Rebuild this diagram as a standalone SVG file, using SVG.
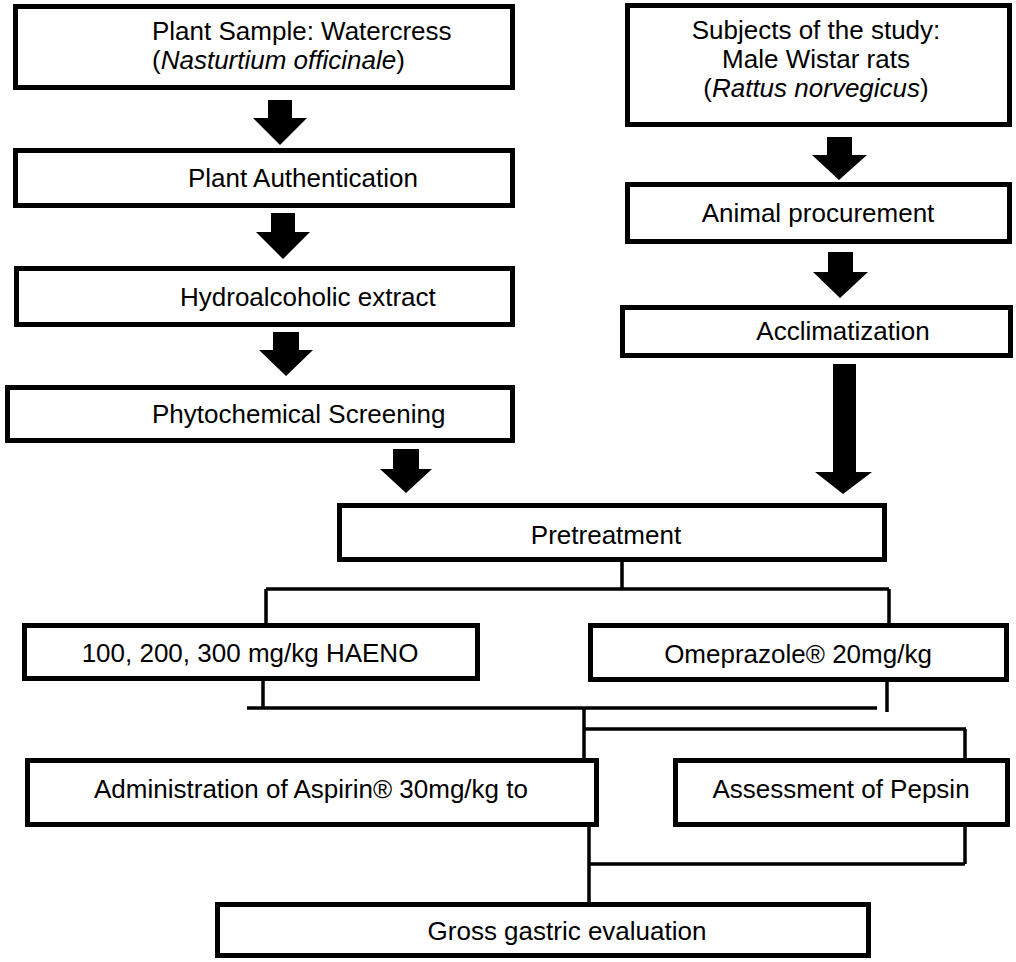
<svg xmlns="http://www.w3.org/2000/svg" width="1016" height="962" viewBox="0 0 1016 962">
<style>
.box{fill:#fff;stroke:#000;stroke-width:5}
.t{font-family:"Liberation Sans",Arial,sans-serif;font-size:26px;fill:#000}
.m{text-anchor:middle}
.ln{stroke:#000;stroke-width:3.5;fill:none}
.ar{fill:#000}
</style>
<rect width="1016" height="962" fill="#fff"/>
<g id="connectors">
<polygon class="ar" points="268,100 292,100 292,118 307,118 280,145 253,118 268,118"/>
<polygon class="ar" points="271,213 295,213 295,232 310,232 283,259 256,232 271,232"/>
<polygon class="ar" points="273,332 299,332 299,350 313,350 286,376 259,350 273,350"/>
<polygon class="ar" points="393,449 419,449 419,469 432,469 406,493 380,469 393,469"/>
<polygon class="ar" points="827,137 852,137 852,155 867,155 839,180 812,155 827,155"/>
<polygon class="ar" points="828,252 853,252 853,272 868,272 840,298 813,272 828,272"/>
<polygon class="ar" points="833,364 856,364 856,472 872,472 843,494 815,472 833,472"/>
<path class="ln" d="M622,562V589M266,589H889M266,589V623M889,589V623"/>
<path class="ln" d="M263,681V708M247,708H877M887,682V712"/>
<path class="ln" d="M584,708V758M584,729H966M965,729V758"/>
<path class="ln" d="M589,827V902M965,827V864M589,864H965"/>
</g>
<g id="n1"><rect class="box" x="15.5" y="6.5" width="497" height="81"/>
<text class="t" x="152" y="40">Plant Sample: Watercress</text>
<text class="t" x="152" y="69">(<tspan font-style="italic">Nasturtium officinale</tspan>)</text></g>
<g id="n2"><rect class="box" x="15.5" y="150.5" width="497" height="55"/>
<text class="t" x="188" y="187">Plant Authentication</text></g>
<g id="n3"><rect class="box" x="16.5" y="268.5" width="496" height="56"/>
<text class="t" x="180" y="306">Hydroalcoholic extract</text></g>
<g id="n4"><rect class="box" x="7.5" y="387.5" width="505" height="53"/>
<text class="t" x="152" y="423">Phytochemical Screening</text></g>
<g id="r1"><rect class="box" x="627.5" y="5.5" width="382" height="119"/>
<text class="t m" x="816" y="39">Subjects of the study:</text>
<text class="t m" x="816" y="68">Male Wistar rats</text>
<text class="t m" x="816" y="97">(<tspan font-style="italic">Rattus norvegicus</tspan>)</text></g>
<g id="r2"><rect class="box" x="627.5" y="184.5" width="382" height="57"/>
<text class="t m" x="818" y="222">Animal procurement</text></g>
<g id="r3"><rect class="box" x="622.5" y="307.5" width="388" height="48"/>
<text class="t m" x="843" y="340">Acclimatization</text></g>
<g id="pre"><rect class="box" x="339.5" y="505.5" width="545" height="54"/>
<text class="t m" x="606" y="544">Pretreatment</text></g>
<g id="haeno"><rect class="box" x="24.5" y="625.5" width="453" height="53"/>
<text class="t m" x="250" y="662">100, 200, 300 mg/kg HAENO</text></g>
<g id="ome"><rect class="box" x="590.5" y="625.5" width="416" height="54"/>
<text class="t m" x="798" y="663">Omeprazole® 20mg/kg</text></g>
<g id="asp"><rect class="box" x="27.5" y="760.5" width="569" height="64"/>
<text class="t m" x="311" y="798">Administration of Aspirin® 30mg/kg to</text></g>
<g id="pep"><rect class="box" x="675.5" y="760.5" width="332" height="64"/>
<text class="t m" x="841" y="798">Assessment of Pepsin</text></g>
<g id="gross"><rect class="box" x="217.5" y="904.5" width="651" height="51"/>
<text class="t m" x="567" y="940">Gross gastric evaluation</text></g>
</svg>
